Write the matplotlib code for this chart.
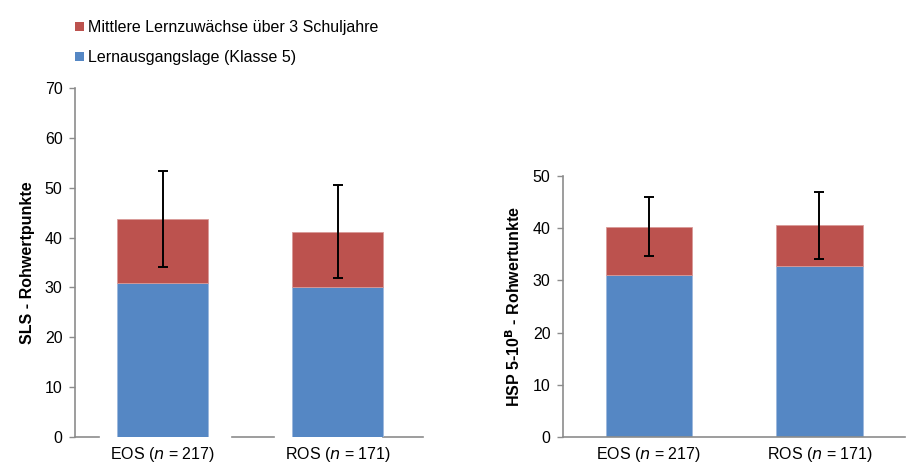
import matplotlib.pyplot as plt
from matplotlib.patches import Patch

plt.rcParams['font.family'] = ['Liberation Sans', 'DejaVu Sans']

groups = ['EOS', 'ROS']
group_n = [217, 171]

# SLS (left panel)
sls_start = [30.9, 30.0]
sls_gain = [12.85, 11.2]
sls_sd = [9.6, 9.3]

# HSP 5-10B (right panel)
hsp_start = [31.1, 32.7]
hsp_gain = [9.2, 7.85]
hsp_sd = [5.7, 6.45]

blue = '#5587C4'
red = '#BC524E'
spine_col = '#8C8C8C'
tick_labels = [f'{g} ($\\it{{n}}$ = {n})' for g, n in zip(groups, group_n)]


def draw_panel(ax, start, gain, sd, ymax, ylabel, bar_width):
    x = range(len(start))
    tops = [s + g for s, g in zip(start, gain)]
    ax.bar(x, start, width=bar_width, color=blue, edgecolor='#9DB8DD', linewidth=0.6, zorder=2)
    ax.bar(x, gain, bottom=start, width=bar_width, color=red, edgecolor='#D99A98', linewidth=0.6, zorder=2)
    ax.errorbar(x, tops, yerr=sd, fmt='none', ecolor='black', elinewidth=1.4,
                capsize=3.3, capthick=1.4, zorder=3)
    ax.set_xlim(-0.5, 1.5)
    ax.set_ylim(0, ymax)
    ax.set_yticks(range(0, ymax + 1, 10))
    ax.set_xticks(list(x))
    ax.set_xticklabels(tick_labels, fontsize=11.5)
    ax.tick_params(axis='x', length=0, pad=6)
    ax.tick_params(axis='y', length=4, width=1, color=spine_col, labelsize=11.5, pad=5)
    ax.set_ylabel(ylabel, fontsize=11.5, fontweight='bold', labelpad=7)
    for side in ['top', 'right']:
        ax.spines[side].set_visible(False)
    for side in ['left', 'bottom']:
        ax.spines[side].set_color(spine_col)
        ax.spines[side].set_linewidth(1.2)


fig = plt.figure(figsize=(9.17, 4.72), dpi=100)

ax1 = fig.add_axes([0.0818, 0.0742, 0.3817, 0.7394])
draw_panel(ax1, sls_start, sls_gain, sls_sd, 70, 'SLS - Rohwertpunkte', 0.515)
# bottom axis line is broken around the bars in this panel
ax1.spines['bottom'].set_visible(False)
for x0, x1 in [(0.0, 0.069), (0.449, 0.569), (0.881, 0.993)]:
    ax1.axhline(0, xmin=x0, xmax=x1, color=spine_col, linewidth=1.2, clip_on=False, zorder=1)

ax2 = fig.add_axes([0.614, 0.0742, 0.3729, 0.5530])
draw_panel(ax2, hsp_start, hsp_gain, hsp_sd, 50, 'HSP 5-10$^{\\mathbf{B}}$ - Rohwertunkte', 0.503)

handles = [Patch(facecolor=red, label='Mittlere Lernzuwächse über 3 Schuljahre'),
           Patch(facecolor=blue, label='Lernausgangslage (Klasse 5)')]
fig.legend(handles=handles, loc='upper left', bbox_to_anchor=(0.066, 0.988), frameon=False,
           fontsize=11.5, handlelength=0.55, handleheight=0.55, handletextpad=0.3, labelspacing=0.95)

fig.savefig('out.png', dpi=100)
